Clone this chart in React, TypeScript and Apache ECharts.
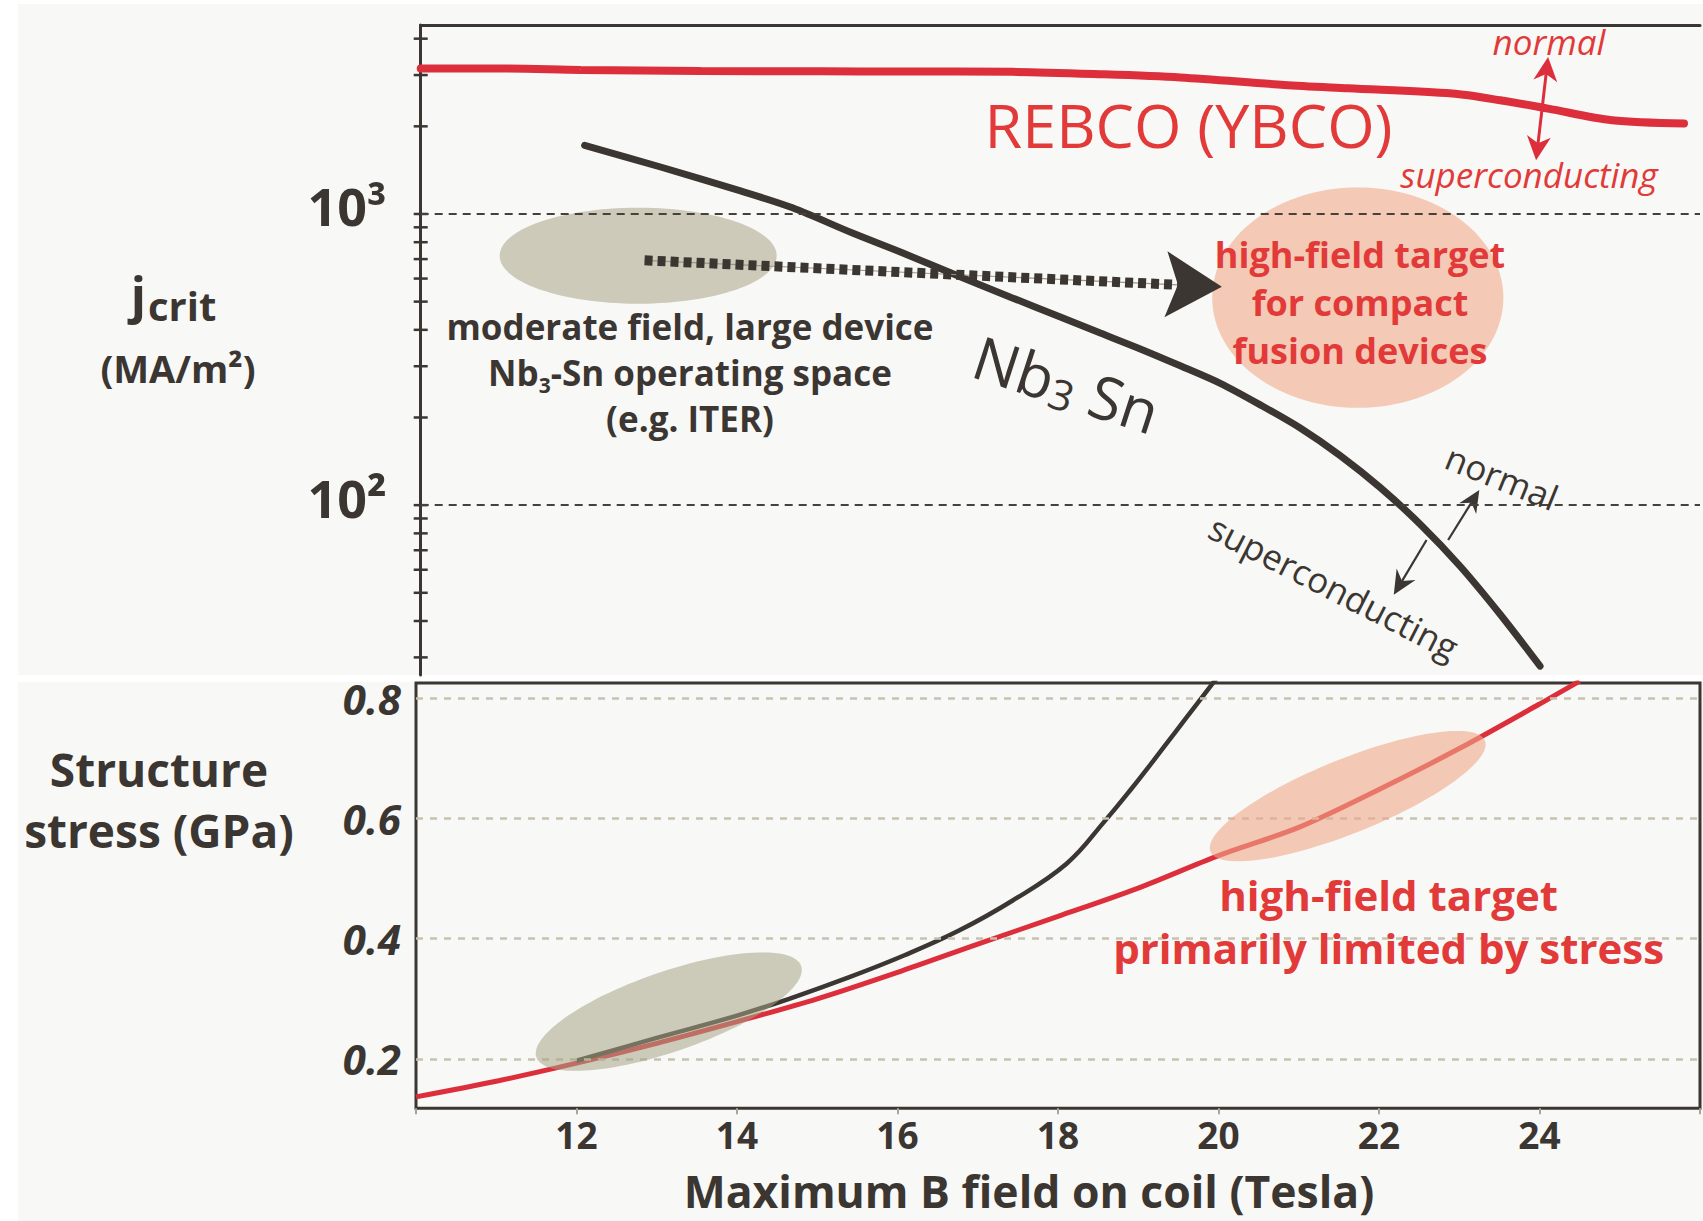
import React, { useEffect, useRef } from "react";
import * as echarts from "echarts";

const WIDTH = 1703;
const HEIGHT = 1221;

const INK = "#3b3631";
const RED = "#dc2e3b";
const LABEL_RED = "#e13a39";
const PANEL_BG = "#f8f8f6";
const FONT = "'Open Sans', 'Noto Sans', 'DejaVu Sans', sans-serif";

// Shared field axis (Tesla)
const FIELD_MIN = 10;
const FIELD_MAX = 26;
const FIELD_STEP = 2;

// Upper panel: critical current density (MA/m²), logarithmic
const J_MIN = 26.1;
const J_MAX = 4457;
const jDecades = [100, 1000];
const jDecadeLabels = ["10²", "10³"];
const jTicks = [30, 40, 50, 60, 70, 80, 90, 100, 200, 300, 400, 500, 600, 700, 800, 900, 1000, 2000, 3000, 4000];

const rebcoField = [10, 11, 12, 13.5, 15, 16, 17.4, 18.5, 19.5, 20.8, 21.6, 22.9, 23.5, 24.1, 24.9, 25.8];
const rebcoJcrit = [3160, 3160, 3125, 3097, 3090, 3085, 3077, 3020, 2944, 2775, 2702, 2591, 2458, 2301, 2099, 2045];

const nb3snField = [12.05, 13, 14, 14.65, 15.4, 16, 16.8, 17.4, 18, 18.5, 19, 19.5, 20, 20.5, 21, 21.5, 22, 22.5, 23, 23.5, 24];
const nb3snJcrit = [1720, 1450, 1200, 1050, 860, 740, 600, 515, 443, 390, 344, 301, 262, 221, 184, 148, 115, 86, 61.7, 42.2, 28];

// Lower panel: structure stress (GPa)
const S_MIN = 0.118;
const S_MAX = 0.825;
const stressGrid = [0.2, 0.4, 0.6, 0.8];

const stressRebcoField = [10, 11, 12, 13, 14, 15, 16, 17, 18, 19, 20, 21, 22, 23, 24, 24.5];
const stressRebco = [0.137, 0.163, 0.193, 0.226, 0.262, 0.3, 0.344, 0.391, 0.437, 0.484, 0.538, 0.585, 0.648, 0.716, 0.79, 0.828];

const stressNbField = [12, 13, 14, 14.65, 15.4, 16.08, 16.76, 17.43, 18.11, 18.58, 18.92, 19.19, 19.46, 19.73, 20.0];
const stressNb = [0.197, 0.235, 0.272, 0.3, 0.336, 0.372, 0.413, 0.463, 0.525, 0.595, 0.65, 0.696, 0.743, 0.79, 0.837];

// Annotation anchors, in axis units: [field, value]
const iterRegionJ = [12.72, 719];
const compactRegionJ = [21.72, 516];
const iterRegionStress = [13.15, 0.2787];
const compactRegionStress = [21.61, 0.637];
const iterArrow = [12.8, 693, 20.02, 562];
const rebcoArrow = [24.1, 3459, 23.95, 1530];
const nbArrowNormal = [22.85, 75.9, 23.24, 112.8];
const nbArrowSuper = [22.58, 75.9, 22.17, 49.2];

const zip = (xs: number[], ys: number[]) => xs.map((x, i) => [x, ys[i]]);

function unit(dx: number, dy: number) {
  const l = Math.hypot(dx, dy) || 1;
  return [dx / l, dy / l];
}

function arrowHead(tip: number[], ux: number, uy: number, len: number, wid: number, notch: number) {
  const nx = -uy;
  const ny = ux;
  const bx = tip[0] - ux * len;
  const by = tip[1] - uy * len;
  return [
    [tip[0], tip[1]],
    [bx + (nx * wid) / 2, by + (ny * wid) / 2],
    [tip[0] - ux * notch, tip[1] - uy * notch],
    [bx - (nx * wid) / 2, by - (ny * wid) / 2],
  ];
}

function ellipseSeries(
  gridIdx: number,
  center: number[],
  rx: number,
  ry: number,
  angleDeg: number,
  fill: string,
  opacity: number,
  z: number
) {
  return {
    type: "custom",
    xAxisIndex: gridIdx,
    yAxisIndex: gridIdx,
    z,
    silent: true,
    clip: false,
    data: [center],
    renderItem: (_p: any, api: any) => {
      const c = api.coord([api.value(0), api.value(1)]);
      const th = (angleDeg * Math.PI) / 180;
      const pts: number[][] = [];
      for (let i = 0; i < 120; i++) {
        const t = (i / 120) * Math.PI * 2;
        const ex = rx * Math.cos(t);
        const ey = ry * Math.sin(t);
        pts.push([c[0] + ex * Math.cos(th) - ey * Math.sin(th), c[1] - (ex * Math.sin(th) + ey * Math.cos(th))]);
      }
      return { type: "polygon", shape: { points: pts }, style: { fill, opacity } };
    },
  };
}

function arrowSeries(
  ends: number[],
  color: string,
  shaftWidth: number,
  len: number,
  wid: number,
  notch: number,
  double: boolean,
  z: number
) {
  return {
    type: "custom",
    xAxisIndex: 0,
    yAxisIndex: 0,
    z,
    silent: true,
    clip: false,
    data: [ends],
    renderItem: (_p: any, api: any) => {
      const a = api.coord([api.value(0), api.value(1)]);
      const b = api.coord([api.value(2), api.value(3)]);
      const [ux, uy] = unit(b[0] - a[0], b[1] - a[1]);
      const start = double ? [a[0] + ux * notch, a[1] + uy * notch] : a;
      const end = [b[0] - ux * notch, b[1] - uy * notch];
      const children: any[] = [
        {
          type: "line",
          shape: { x1: start[0], y1: start[1], x2: end[0], y2: end[1] },
          style: { stroke: color, lineWidth: shaftWidth },
        },
        { type: "polygon", shape: { points: arrowHead(b, ux, uy, len, wid, notch) }, style: { fill: color } },
      ];
      if (double) {
        children.push({
          type: "polygon",
          shape: { points: arrowHead(a, -ux, -uy, len, wid, notch) },
          style: { fill: color },
        });
      }
      return { type: "group", children };
    },
  };
}

function buildOption() {
  const series: any[] = [
    // log-axis ticks and decade grid lines
    {
      type: "custom",
      name: "jcrit ticks",
      xAxisIndex: 0,
      yAxisIndex: 0,
      z: 2,
      silent: true,
      clip: false,
      data: jTicks.map((v) => [FIELD_MIN, v]),
      renderItem: (_p: any, api: any) => {
        const c = api.coord([api.value(0), api.value(1)]);
        return {
          type: "line",
          shape: { x1: c[0] - 7, y1: c[1], x2: c[0] + 7, y2: c[1] },
          style: { stroke: INK, lineWidth: 2.5 },
        };
      },
      markLine: {
        silent: true,
        symbol: ["none", "none"],
        lineStyle: { color: "#46413b", width: 2, type: [8, 6] },
        label: {
          show: true,
          position: "start",
          distance: 34,
          color: INK,
          fontFamily: FONT,
          fontSize: 52,
          fontWeight: "bold",
          rich: {
            d: { fontFamily: FONT, fontSize: 52, fontWeight: "bold", color: INK, lineHeight: 52 },
            gap: { fontSize: 10, lineHeight: 16 },
          },
        },
        data: jDecades.map((v, i) => ({
          yAxis: v,
          label: { formatter: "{d|" + jDecadeLabels[i] + "}\n{gap| }" },
        })),
      },
    },
    ellipseSeries(0, iterRegionJ, 138.5, 48, 0, "#cdcab9", 1, 1),
    ellipseSeries(0, compactRegionJ, 145.6, 110.2, 0, "#f4c9b6", 1, 1),
    {
      type: "line",
      name: "REBCO (YBCO)",
      xAxisIndex: 0,
      yAxisIndex: 0,
      z: 3,
      data: zip(rebcoField, rebcoJcrit),
      showSymbol: false,
      symbol: "none",
      smooth: 0.3,
      lineStyle: { color: RED, width: 8, cap: "round" },
    },
    {
      type: "line",
      name: "Nb3Sn",
      xAxisIndex: 0,
      yAxisIndex: 0,
      z: 3,
      data: zip(nb3snField, nb3snJcrit),
      showSymbol: false,
      symbol: "none",
      smooth: 0.3,
      lineStyle: { color: INK, width: 7, cap: "round" },
    },
    // dotted arrow from the ITER region to the compact high-field target
    {
      type: "custom",
      xAxisIndex: 0,
      yAxisIndex: 0,
      z: 4,
      silent: true,
      clip: false,
      data: [iterArrow],
      renderItem: (_p: any, api: any) => {
        const a = api.coord([api.value(0), api.value(1)]);
        const b = api.coord([api.value(2), api.value(3)]);
        const [ux, uy] = unit(b[0] - a[0], b[1] - a[1]);
        const end = [b[0] - ux * 44, b[1] - uy * 44];
        return {
          type: "group",
          children: [
            {
              type: "line",
              shape: { x1: a[0], y1: a[1], x2: end[0], y2: end[1] },
              style: { stroke: "#9a958a", lineWidth: 1.2 },
            },
            {
              type: "line",
              shape: { x1: a[0], y1: a[1], x2: end[0], y2: end[1] },
              style: { stroke: INK, lineWidth: 10, lineDash: [8, 5] },
            },
            { type: "polygon", shape: { points: arrowHead(b, ux, uy, 56, 66, 44) }, style: { fill: INK } },
          ],
        };
      },
    },
    arrowSeries(rebcoArrow, RED, 3, 24, 24, 17, true, 4),
    arrowSeries(nbArrowNormal, INK, 2.2, 22, 20, 15, false, 4),
    arrowSeries(nbArrowSuper, INK, 2.2, 24, 22, 16, false, 4),

    // lower panel
    {
      type: "line",
      name: "stress grid",
      xAxisIndex: 1,
      yAxisIndex: 1,
      z: 1,
      data: [[FIELD_MIN, stressGrid[0]]],
      showSymbol: false,
      symbol: "none",
      lineStyle: { width: 0, opacity: 0 },
      silent: true,
      markLine: {
        silent: true,
        symbol: ["none", "none"],
        lineStyle: { color: "#c6c1b0", width: 2.5, type: [7, 7] },
        label: {
          show: true,
          position: "start",
          distance: 15,
          color: INK,
          fontFamily: FONT,
          fontSize: 42,
          fontWeight: "bold",
          fontStyle: "italic",
          lineHeight: 42,
          formatter: (p: any) => Number(p.value).toFixed(1),
        },
        data: stressGrid.map((v) => ({ yAxis: v })),
      },
    },
    {
      type: "line",
      name: "REBCO stress",
      xAxisIndex: 1,
      yAxisIndex: 1,
      z: 3,
      data: zip(stressRebcoField, stressRebco),
      showSymbol: false,
      symbol: "none",
      smooth: 0.3,
      lineStyle: { color: RED, width: 5 },
    },
    {
      type: "line",
      name: "Nb3Sn stress",
      xAxisIndex: 1,
      yAxisIndex: 1,
      z: 3,
      data: zip(stressNbField, stressNb),
      showSymbol: false,
      symbol: "none",
      smooth: 0.4,
      lineStyle: { color: INK, width: 4.5 },
    },
    ellipseSeries(1, iterRegionStress, 140, 40, 19, "rgb(168,164,135)", 0.55, 5),
    ellipseSeries(1, compactRegionStress, 148, 37, 22, "rgb(240,168,138)", 0.6, 5),
  ];

  const txt = (x: number, y: number, style: any, rotationDeg = 0) => ({
    type: "text",
    x,
    y,
    z: 100,
    silent: true,
    rotation: (rotationDeg * Math.PI) / 180,
    style: {
      fontFamily: FONT,
      fill: INK,
      align: "center",
      verticalAlign: "middle",
      textAlign: "center",
      textVerticalAlign: "middle",
      ...style,
    },
  });

  const sub = (size: number, lh: number, weight: any, color: string) => ({
    fontSize: size,
    fontWeight: weight,
    fontFamily: FONT,
    fill: color,
    color,
    verticalAlign: "bottom",
    lineHeight: lh,
  });
  const main = (size: number, lh: number, weight: any, color: string) => ({
    fontSize: size,
    fontWeight: weight,
    fontFamily: FONT,
    fill: color,
    color,
    lineHeight: lh,
  });

  const graphic = [
    { type: "rect", z: -10, silent: true, shape: { x: 18, y: 4, width: WIDTH - 18, height: 671 }, style: { fill: PANEL_BG } },
    { type: "rect", z: -10, silent: true, shape: { x: 18, y: 682, width: WIDTH - 18, height: HEIGHT - 682 }, style: { fill: PANEL_BG } },
    txt(146, 293.6, { text: "j", fontSize: 50, fontWeight: "bold", align: "right", textAlign: "right" }),
    txt(148, 305.5, { text: "crit", fontSize: 40, fontWeight: "bold", align: "left", textAlign: "left" }),
    txt(178, 368, { text: "(MA/m²)", fontSize: 38, fontWeight: "bold" }),
    txt(159, 799, { text: "Structure\nstress (GPa)", fontSize: 46, fontWeight: "bold", lineHeight: 61 }),
    txt(690, 372.4, {
      text: "moderate field, large device\n{n|Nb}{s|3}{n|-Sn operating space}\n(e.g. ITER)",
      fontSize: 35,
      fontWeight: "bold",
      lineHeight: 46,
      rich: { n: main(35, 46, "bold", INK), s: sub(21, 24, "bold", INK) },
    }),
    txt(1188.6, 124, { text: "REBCO (YBCO)", fontSize: 61, fontWeight: "normal", fill: LABEL_RED }),
    txt(1549, 41.4, { text: "normal", fontSize: 35, fontStyle: "italic", fill: LABEL_RED }),
    txt(1529, 174.7, { text: "superconducting", fontSize: 35, fontStyle: "italic", fill: LABEL_RED }),
    txt(1360, 302.7, {
      text: "high-field target\nfor compact\nfusion devices",
      fontSize: 36,
      fontWeight: "bold",
      lineHeight: 48.3,
      fill: LABEL_RED,
    }),
    txt(
      1066.7,
      384,
      {
        text: "{n|Nb}{s|3}{n| Sn}",
        rich: { n: main(60, 64, "normal", INK), s: { ...sub(42, 20, "normal", INK) } },
      },
      -18
    ),
    txt(1502, 477, { text: "normal", fontSize: 35 }, -22),
    txt(1334, 587, { text: "superconducting", fontSize: 35 }, -27),
    txt(1388.6, 920.8, {
      text: "high-field target\nprimarily limited by stress",
      fontSize: 42,
      fontWeight: "bold",
      lineHeight: 53,
      fill: LABEL_RED,
    }),
  ];

  return {
    animation: false,
    backgroundColor: "#ffffff",
    textStyle: { fontFamily: FONT },
    grid: [
      { left: 420.7, top: 25, right: 3, bottom: HEIGHT - 675, show: false, containLabel: false, outerBoundsMode: "none" },
      {
        left: 416,
        top: 683,
        right: 3,
        bottom: HEIGHT - 1108.3,
        show: true,
        borderColor: INK,
        borderWidth: 3,
        backgroundColor: "transparent",
        containLabel: false,
        outerBoundsMode: "none",
      },
    ],
    xAxis: [
      {
        type: "value",
        gridIndex: 0,
        position: "top",
        min: FIELD_MIN,
        max: FIELD_MAX,
        interval: FIELD_STEP,
        axisLine: { show: true, onZero: false, lineStyle: { color: INK, width: 3 } },
        axisTick: { show: false },
        axisLabel: { show: false },
        splitLine: { show: false },
      },
      {
        type: "value",
        gridIndex: 1,
        position: "bottom",
        min: FIELD_MIN,
        max: FIELD_MAX,
        interval: FIELD_STEP,
        axisLine: { show: false, onZero: false },
        axisTick: { show: true, length: 6, lineStyle: { color: "#aaa596", width: 2 } },
        axisLabel: {
          show: true,
          margin: 8,
          color: INK,
          fontFamily: FONT,
          fontSize: 37,
          lineHeight: 37,
          fontWeight: "bold",
          formatter: (v: number) => (v === FIELD_MIN || v === FIELD_MAX ? "" : String(v)),
        },
        splitLine: { show: false },
        name: "Maximum B field on coil (Tesla)",
        nameLocation: "middle",
        nameGap: 60,
        nameTextStyle: {
          color: INK,
          fontFamily: FONT,
          fontSize: 44.5,
          lineHeight: 44.5,
          fontWeight: "bold",
          padding: [0, 58, 0, 0],
        },
      },
    ],
    yAxis: [
      {
        type: "log",
        logBase: 10,
        gridIndex: 0,
        min: J_MIN,
        max: J_MAX,
        axisLine: { show: true, onZero: false, lineStyle: { color: INK, width: 3 } },
        axisTick: { show: false },
        axisLabel: { show: false },
        splitLine: { show: false },
        minorTick: { show: false },
        minorSplitLine: { show: false },
      },
      {
        type: "value",
        gridIndex: 1,
        min: S_MIN,
        max: S_MAX,
        axisLine: { show: false },
        axisTick: { show: false },
        axisLabel: { show: false },
        splitLine: { show: false },
      },
    ],
    series,
    graphic: { elements: graphic },
  };
}

export default function App() {
  const ref = useRef<HTMLDivElement>(null);
  useEffect(() => {
    if (!ref.current) return;
    const chart = echarts.init(ref.current, null, { renderer: "svg" });
    chart.setOption(buildOption() as any);
    return () => chart.dispose();
  }, []);
  return <div ref={ref} style={{ position: "fixed", left: 0, top: 0, width: WIDTH, height: HEIGHT }} />;
}
